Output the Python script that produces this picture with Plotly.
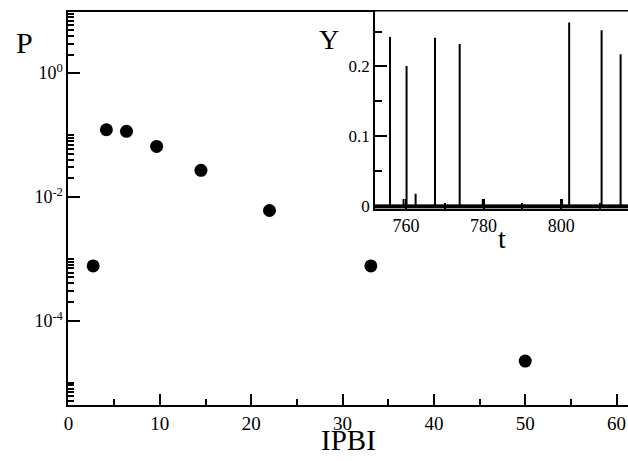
import plotly.graph_objects as go

W, H = 628, 461

# Main panel data: inter-burst interval distribution
ipbi = [2.7, 4.15, 6.35, 9.65, 14.5, 22.0, 33.1, 50.0]
prob = [7.7e-4, 0.122, 0.115, 0.0655, 0.0269, 0.00605, 7.7e-4, 2.23e-5]

# Inset data: time series Y(t) -- spike events on a flat baseline
event_t = [755.9, 759.4, 760.17, 762.5, 767.5, 773.85, 779.8, 800.2, 802.05, 810.4, 815.3]
event_h = [0.242, 0.010, 0.2006, 0.0174, 0.241, 0.232, 0.010, 0.010, 0.263, 0.252, 0.2175]
t_start, t_end = 751.5, 818.0

# Tick labels
main_y_tickvals = [1e0, 1e-2, 1e-4]
main_y_ticktext = ["10<sup>0</sup>", "10<sup>-2</sup>", "10<sup>-4</sup>"]
main_x_tickvals = [0, 10, 20, 30, 40, 50, 60]
inset_x_tickvals = [760, 780, 800]
inset_y_tickvals = [0, 0.1, 0.2]
inset_y_ticktext = ["0", "0.1", "0.2"]

# minor log ticks (Grace style: every other decade)
minor_y = [m * 10.0 ** k for k in (-6, -4, -2, 0) for m in range(2, 11)]

# build inset line from events
ts, ys = [t_start], [0.0]
for t, h in zip(event_t, event_h):
    ts += [t, t, t]
    ys += [0.0, h, 0.0]
ts.append(t_end)
ys.append(0.0)

FONT = "Liberation Serif"

fig = go.Figure()
fig.add_trace(go.Scatter(x=ipbi, y=prob, mode="markers",
                         marker=dict(color="black", size=13),
                         xaxis="x", yaxis="y", showlegend=False))
fig.add_trace(go.Scatter(x=[t_start, t_end], y=[-0.0008, -0.0008], mode="lines",
                         line=dict(color="black", width=4),
                         xaxis="x2", yaxis="y2", showlegend=False))
fig.add_trace(go.Scatter(x=ts, y=ys, mode="lines",
                         line=dict(color="black", width=2),
                         xaxis="x2", yaxis="y2", showlegend=False))

px0 = 64.0
main_dom_x = [px0 / W, 1.0]
main_dom_y = [(H - 411.3) / H, (H - 11.7) / H]
inset_dom_x = [373.0 / W, 1.0]
inset_dom_y = [(H - 212.0) / H, (H - 11.7) / H]

axis_common = dict(showgrid=False, zeroline=False, showline=True,
                   linecolor="black", linewidth=2, ticks="inside",
                   tickcolor="black", tickwidth=1.5)

fig.update_layout(
    width=W, height=H,
    margin=dict(l=0, r=0, t=0, b=0),
    paper_bgcolor="white", plot_bgcolor="white",
    font=dict(family=FONT, color="black"),
    xaxis=dict(domain=main_dom_x, range=[0, 61.25], mirror=True,
               tickvals=main_x_tickvals, ticklen=11,
               tickfont=dict(size=19, family=FONT),
               minor=dict(dtick=5, tick0=0, ticks="inside", ticklen=6,
                          tickcolor="black", tickwidth=1.5),
               **axis_common),
    yaxis=dict(domain=main_dom_y, type="log", range=[-5.362, 0.996],
               tickvals=main_y_tickvals, ticktext=main_y_ticktext, ticklen=12,
               tickfont=dict(size=18, family=FONT),
               minor=dict(tickmode="array", tickvals=minor_y, ticks="inside",
                          ticklen=6, tickcolor="black", tickwidth=1.5),
               **axis_common),
    xaxis2=dict(domain=inset_dom_x, anchor="y2", range=[752.05, 817.2],
                tickvals=inset_x_tickvals, ticklen=10,
                tickfont=dict(size=18, family=FONT),
                minor=dict(dtick=10, tick0=770, ticks="inside", ticklen=6,
                           tickcolor="black", tickwidth=1.5),
                **axis_common),
    yaxis2=dict(domain=inset_dom_y, anchor="x2", range=[-0.0042, 0.2787],
                tickvals=inset_y_tickvals, ticktext=inset_y_ticktext, ticklen=12,
                tickfont=dict(size=17, family=FONT),
                minor=dict(dtick=0.05, tick0=0, ticks="inside", ticklen=7,
                           tickcolor="black", tickwidth=1.5),
                **axis_common),
)

def ann(text, x, y, size):
    fig.add_annotation(text=text, x=x / W, y=1 - y / H, xref="paper", yref="paper",
                       showarrow=False, font=dict(size=size, family=FONT, color="black"),
                       xanchor="center", yanchor="middle")

ann("P", 20, 43, 30)
ann("IPBI", 346, 447, 29)
ann("Y", 327, 40, 28)
ann("t", 501, 242, 28)

fig.write_html("out.html", config={"displayModeBar": False},
               post_script="document.body.style.margin='0';document.body.style.overflow='hidden';")
